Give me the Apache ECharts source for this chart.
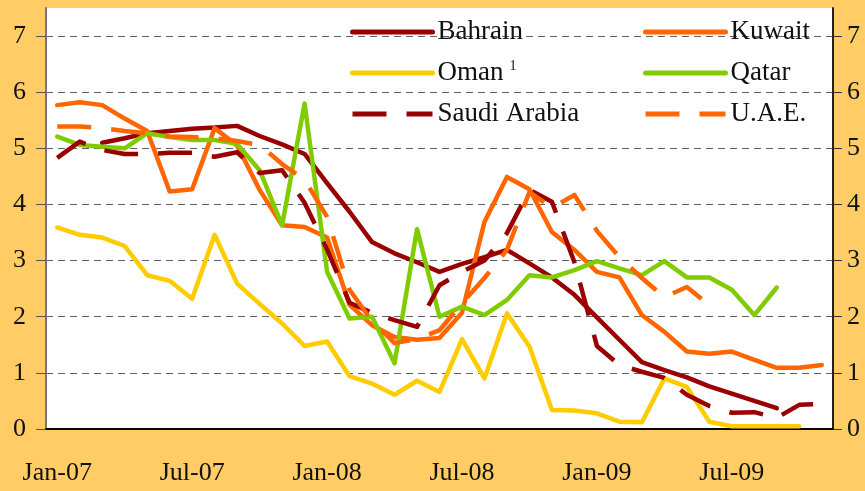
<!DOCTYPE html>
<html>
<head>
<meta charset="utf-8">
<script src="https://cdn.jsdelivr.net/npm/echarts@6/dist/echarts.min.js"></script>
<style>
  html, body { margin: 0; padding: 0; background: #FFCC66; }
  #chart { width: 865px; height: 491px; }
</style>
</head>
<body>
<div id="chart"></div>
<script>
// monthly, Jan-07 .. Nov-09
var months = ['Jan','Feb','Mar','Apr','May','Jun','Jul','Aug','Sep','Oct','Nov','Dec'];
var categories = [];
for (var y = 7; y <= 9; y++) {
  for (var m = 0; m < 12; m++) {
    if (y === 9 && m > 10) break;
    categories.push(months[m] + '-0' + y);
  }
}

var bahrain = [null,null,5.10,5.18,5.27,5.31,5.35,5.37,5.40,5.22,5.07,4.90,4.38,3.87,3.33,3.13,2.97,2.80,2.94,3.06,3.19,2.95,2.70,2.39,1.99,1.59,1.19,1.05,0.92,0.76,0.63,0.50,0.37,null,null];
var kuwait = [5.77,5.82,5.77,5.53,5.31,4.23,4.27,5.36,5.05,4.26,3.63,3.60,3.41,2.21,1.85,1.64,1.59,1.62,2.07,3.69,4.49,4.27,3.51,3.19,2.80,2.70,2.03,1.73,1.38,1.34,1.38,1.23,1.09,1.09,1.14];
var oman = [3.59,3.46,3.41,3.26,2.74,2.64,2.32,3.46,2.59,2.23,1.88,1.48,1.56,0.94,0.81,0.61,0.86,0.66,1.60,0.90,2.06,1.47,0.34,0.33,0.28,0.13,0.12,0.90,0.75,0.13,0.05,0.05,0.05,0.05,null];
var qatar = [5.21,5.06,5.03,5.00,5.27,5.20,5.15,5.15,5.08,4.61,3.63,5.80,2.80,1.97,2.00,1.17,3.56,2.00,2.18,2.03,2.30,2.74,2.70,2.83,2.99,2.86,2.74,2.99,2.70,2.70,2.48,2.03,2.52,null,null];
var saudi = [4.83,5.12,4.97,4.90,4.90,4.92,4.92,4.85,4.93,4.56,4.61,4.03,3.20,2.25,2.07,1.94,1.82,2.56,2.80,3.00,3.49,4.26,4.05,2.97,1.48,1.14,1.02,0.91,0.61,0.41,0.29,0.30,0.20,0.43,0.45];
var uae = [5.39,5.39,5.36,5.31,5.27,5.21,5.20,5.18,5.13,5.06,4.72,4.44,3.78,2.48,1.92,1.53,1.60,1.76,2.24,2.69,3.19,4.22,3.94,4.17,3.53,3.06,2.69,2.35,2.53,2.21,null,null,null,null,null];

var FONT = '"Liberation Serif", "DejaVu Serif", serif';
var DARKRED = '#990000', ORANGE = '#FF6600', YELLOW = '#FFCC00', GREEN = '#80CC00';

function line(name, data, color, dashed) {
  return {
    name: name,
    type: 'line',
    data: data,
    symbol: 'none',
    connectNulls: false,
    lineStyle: {
      color: color,
      width: 4.5,
      type: dashed ? [34, 20] : 'solid',
      cap: dashed ? 'butt' : 'round',
      join: 'round'
    },
    itemStyle: { color: color }
  };
}

var legendBase = {
  orient: 'vertical',
  top: 13,
  itemWidth: 80,
  itemHeight: 20,
  itemGap: 13,
  itemStyle: { opacity: 0 },
  lineStyle: { width: 5 },
  textStyle: {
    fontFamily: FONT, fontSize: 27, color: '#111', lineHeight: 28,
    rich: { sup: { fontFamily: FONT, fontSize: 14, color: '#111', verticalAlign: 'top', lineHeight: 12, padding: [0, 0, 0, 6] } }
  },
  formatter: function (name) { return name === 'Oman' ? 'Oman{sup|1}' : name; }
};

var chart = echarts.init(document.getElementById('chart'));
var option = {
  backgroundColor: '#FFCC66',
  animation: false,
  legend: [
    Object.assign({}, legendBase, { left: 345, data: ['Bahrain', 'Oman', 'Saudi Arabia'] }),
    Object.assign({}, legendBase, { left: 638, data: ['Kuwait', 'Qatar', 'U.A.E.'] })
  ],
  grid: {
    left: 46, right: 32, top: 8, bottom: 62,
    show: true, backgroundColor: '#FFFFFF', borderWidth: 0
  },
  xAxis: {
    type: 'category',
    data: categories,
    boundaryGap: true,
    axisLine: { lineStyle: { color: '#000', width: 2 } },
    axisTick: { inside: true, length: 8, interval: 5, lineStyle: { color: '#000', width: 2 } },
    axisLabel: { interval: 5, margin: 31, fontFamily: FONT, fontSize: 26, color: '#111' },
    splitLine: { show: false }
  },
  yAxis: [
    {
      type: 'value', min: 0, max: 7.5, interval: 1, position: 'left',
      axisLine: { show: true, lineStyle: { color: '#777', width: 2 } },
      axisTick: { show: true, length: 10, lineStyle: { color: '#555' } },
      axisLabel: { showMaxLabel: false, margin: 20, fontFamily: FONT, fontSize: 26, color: '#111' },
      splitLine: { show: true, showMaxLine: false, lineStyle: { color: '#606060', type: [7, 5], width: 1 } }
    },
    {
      type: 'value', min: 0, max: 7.5, interval: 1, position: 'right',
      axisLine: { show: true, lineStyle: { color: '#222', width: 2 } },
      axisTick: { show: true, length: 9, lineStyle: { color: '#333' } },
      axisLabel: { showMaxLabel: false, margin: 14, fontFamily: FONT, fontSize: 26, color: '#111' },
      splitLine: { show: false }
    }
  ],
  series: [
    line('Bahrain', bahrain, DARKRED, false),
    line('Kuwait', kuwait, ORANGE, false),
    line('Oman', oman, YELLOW, false),
    line('Qatar', qatar, GREEN, false),
    line('Saudi Arabia', saudi, DARKRED, true),
    line('U.A.E.', uae, ORANGE, true)
  ]
};
chart.setOption(option);
</script>
</body>
</html>
